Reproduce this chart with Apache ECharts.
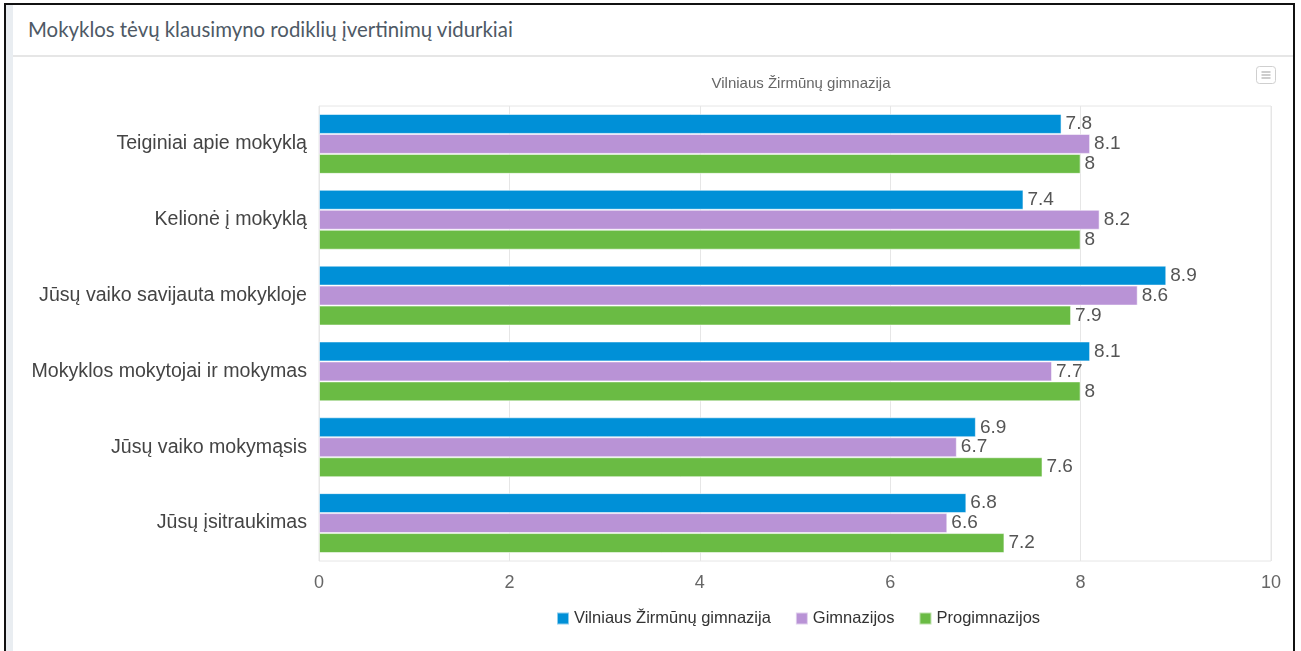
<!DOCTYPE html>
<html>
<head>
<meta charset="utf-8">
<script src="https://cdn.jsdelivr.net/npm/echarts@6/dist/echarts.min.js"></script>
<style>
body { margin: 0; background: #fff; }
.frame {
  position: absolute;
  left: 4px;
  top: 3px;
  width: 1287px;
  height: 646px;
  border-left: 2px solid #111;
  border-top: 2px solid #111;
  border-right: 2px solid #111;
  border-bottom: 1px solid #e3e3e3;
}
.side-strip {
  position: absolute;
  left: 0;
  top: 0;
  width: 7px;
  height: 100%;
  background: #e9edf1;
}
.panel-head {
  position: absolute;
  left: 7px;
  top: 0;
  right: 0;
  height: 50px;
  border-bottom: 2px solid #e6e6e6;
}
.panel-head h2 {
  margin: 0;
  padding: 12px 0 0 15px;
  font-family: Lato, "Liberation Sans", sans-serif;
  font-weight: normal;
  font-size: 20.4px;
  color: #4e5965;
}
#chart {
  position: absolute;
  left: 0;
  top: 0;
  width: 1301px;
  height: 651px;
}
</style>
</head>
<body>
<div class="frame">
  <div class="side-strip"></div>
  <div class="panel-head"><h2>Mokyklos tėvų klausimyno rodiklių įvertinimų vidurkiai</h2></div>
</div>
<div id="chart"></div>
<script>
// klausimyno rodikliai
var categories = [
  "Teiginiai apie mokyklą",
  "Kelionė į mokyklą",
  "Jūsų vaiko savijauta mokykloje",
  "Mokyklos mokytojai ir mokymas",
  "Jūsų vaiko mokymąsis",
  "Jūsų įsitraukimas"
];
var seriesNames = ["Vilniaus Žirmūnų gimnazija", "Gimnazijos", "Progimnazijos"];
var zirmunai = [7.8, 7.4, 8.9, 8.1, 6.9, 6.8];
var gimnazijos = [8.1, 8.2, 8.6, 7.7, 6.7, 6.6];
var progimnazijos = [8, 8, 7.9, 8, 7.6, 7.2];
var xTicks = [0, 2, 4, 6, 8, 10];

var colors = ["#0090d7", "#b993d6", "#6abb44"];
var font = "Liberation Sans, Arial, sans-serif";

function barSeries(name, data, color) {
  return {
    name: name,
    type: "bar",
    data: data,
    barGap: "0%",
    barCategoryGap: "21%",
    itemStyle: {
      color: color,
      borderColor: "rgba(255,255,255,0.55)",
      borderWidth: 1
    },
    label: {
      show: true,
      position: "right",
      distance: 4,
      color: "#555",
      fontSize: 19,
      fontFamily: font
    }
  };
}

var chart = echarts.init(document.getElementById("chart"));
var option = {
  animation: false,
  color: colors,
  title: {
    text: "Vilniaus Žirmūnų gimnazija",
    left: 796,
    top: 71,
    textAlign: "center",
    textStyle: {
      color: "#666",
      fontSize: 15,
      fontWeight: "normal",
      fontFamily: font
    }
  },
  grid: {
    left: 319,
    top: 106,
    width: 952,
    height: 455,
    show: true,
    borderColor: "#e6e6e6",
    borderWidth: 1,
    containLabel: false
  },
  legend: {
    data: seriesNames,
    left: 551,
    top: 605,
    itemWidth: 12,
    itemHeight: 12,
    itemGap: 24,
    icon: "rect",
    textStyle: {
      color: "#333",
      fontSize: 16.5,
      fontFamily: font
    }
  },
  xAxis: {
    type: "value",
    min: xTicks[0],
    max: xTicks[xTicks.length - 1],
    interval: 2,
    axisLine: { show: false },
    axisTick: { show: false },
    splitLine: { lineStyle: { color: "#e6e6e6" } },
    axisLabel: {
      color: "#666",
      fontSize: 18,
      margin: 13,
      fontFamily: font
    }
  },
  yAxis: {
    type: "category",
    data: categories,
    inverse: true,
    axisLine: { show: false },
    axisTick: { show: false },
    axisLabel: {
      color: "#444",
      fontSize: 19.6,
      margin: 12,
      fontFamily: font
    }
  },
  graphic: [
    {
      type: "group",
      left: 1256,
      top: 66,
      children: [
        { type: "rect", shape: { x: 0, y: 0, width: 19, height: 17, r: 3 }, style: { fill: "#fff", stroke: "#cfcfcf", lineWidth: 1 } },
        { type: "line", shape: { x1: 5, y1: 5.5, x2: 14, y2: 5.5 }, style: { stroke: "#bdbdbd", lineWidth: 1.5 } },
        { type: "line", shape: { x1: 5, y1: 8.5, x2: 14, y2: 8.5 }, style: { stroke: "#bdbdbd", lineWidth: 1.5 } },
        { type: "line", shape: { x1: 5, y1: 11.5, x2: 14, y2: 11.5 }, style: { stroke: "#bdbdbd", lineWidth: 1.5 } }
      ]
    }
  ],
  series: [
    barSeries(seriesNames[0], zirmunai, colors[0]),
    barSeries(seriesNames[1], gimnazijos, colors[1]),
    barSeries(seriesNames[2], progimnazijos, colors[2])
  ]
};
chart.setOption(option);
</script>
</body>
</html>
